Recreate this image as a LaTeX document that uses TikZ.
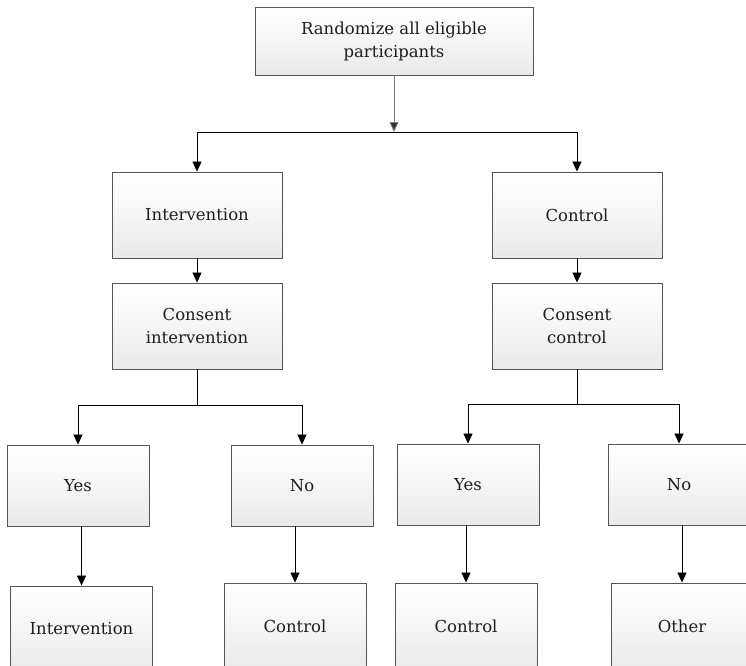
\documentclass[tikz,border=0pt]{standalone}
\usepackage{fontspec}
\setmainfont{DejaVu Serif}
\usetikzlibrary{arrows.meta,calc}
\definecolor{boxline}{RGB}{85,85,85}
\definecolor{boxtext}{RGB}{30,30,30}
\definecolor{boxshade}{RGB}{232,233,233}
\tikzset{
  box/.style={draw=boxline, line width=0.9pt, top color=white, bottom color=boxshade,
    middle color=boxshade!45, text=boxtext, align=center, inner sep=0pt,
    font=\fontsize{16.5}{23}\selectfont},
  wide/.style={box, minimum width=170pt, minimum height=86pt},
  leaf/.style={box, minimum width=142pt, minimum height=81pt},
  link/.style={line width=0.8pt, draw=black, -{Triangle[length=10pt,width=9pt]}},
  plain/.style={line width=0.8pt, draw=black}
}
\begin{document}
\begin{tikzpicture}[x=1pt,y=-1pt]
\useasboundingbox (0,0) rectangle (746,665);
\clip (0,0) rectangle (746,665);
\fill[white] (0,0) rectangle (746,665);

% root
\node[box, minimum width=278pt, minimum height=68pt] (root) at (394,41)
  {Randomize all eligible\\participants};

% first level
\node[wide] (intv) at (197,215) {Intervention};
\node[wide] (ctrl) at (577,215) {Control};
\node[wide] (cintv) at (197,326) {Consent\\intervention};
\node[wide] (cctrl) at (577,326) {Consent\\control};

% consent answers
\node[leaf] (yesA) at (78,485.5) {Yes};
\node[leaf] (noA) at (302,485.5) {No};
\node[leaf] (yesB) at (468,484.5) {Yes};
\node[leaf] (noB) at (679,484.5) {No};

% outcomes (running off the lower edge)
\node[leaf, minimum height=86pt] (outA) at (81.5,629) {Intervention};
\node[leaf, minimum height=86pt] (outB) at (295,626) {Control};
\node[leaf, minimum height=86pt] (outC) at (466,626) {Control};
\node[leaf, minimum height=86pt] (outD) at (682,626) {Other};

% randomisation split
\coordinate (split) at (394,132);
\draw[line width=0.8pt, draw=gray, -{Triangle[length=10pt,width=9pt,fill=black!80]}] (root.south) -- (split);
\draw[plain] (intv.north |- split) -- (ctrl.north |- split);
\draw[link] (intv.north |- split) -- (intv.north);
\draw[link] (ctrl.north |- split) -- (ctrl.north);

% arm to consent
\draw[link] (intv.south) -- (cintv.north);
\draw[link] (ctrl.south) -- (cctrl.north);

% consent branches
\coordinate (splitA) at (197,405);
\coordinate (splitB) at (577,404);
\draw[plain] (cintv.south) -- (splitA);
\draw[link] (splitA) -| (yesA.north);
\draw[link] (splitA) -| (noA.north);
\draw[plain] (cctrl.south) -- (splitB);
\draw[link] (splitB) -| (yesB.north);
\draw[link] (splitB) -| (noB.north);

% outcomes
\draw[link] (outA.north |- yesA.south) -- (outA.north);
\draw[link] (outB.north |- noA.south) -- (outB.north);
\draw[link] (outC.north |- yesB.south) -- (outC.north);
\draw[link] (outD.north |- noB.south) -- (outD.north);
\end{tikzpicture}
\end{document}
